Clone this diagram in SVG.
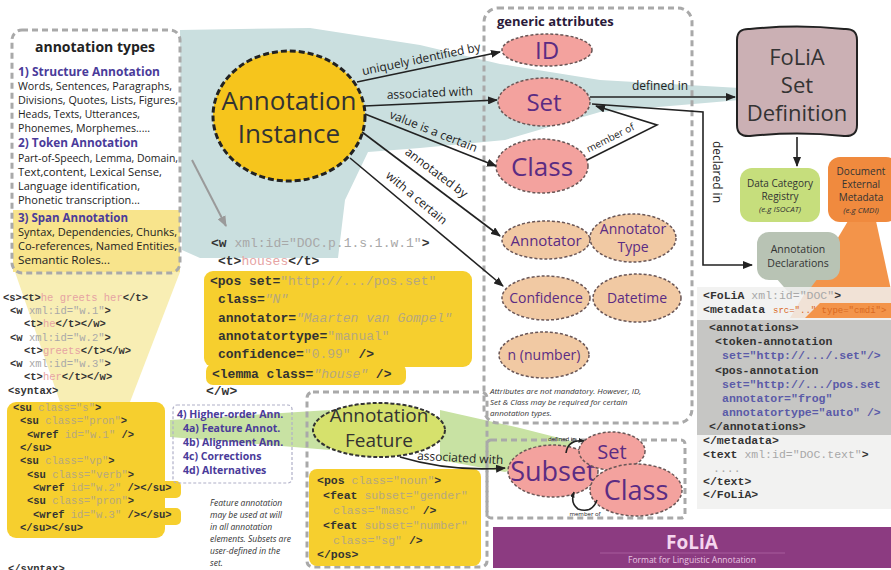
<svg xmlns="http://www.w3.org/2000/svg" width="891" height="570" viewBox="0 0 891 570">
<defs>
<style>
.dash{fill:none;stroke:#a9a9a9;stroke-width:3;stroke-dasharray:6 4}
.pink{fill:#f3a29e;stroke:#6a5656;stroke-width:1.5;stroke-dasharray:3 2}
.tan{fill:#f1c9a3;stroke:#6a5656;stroke-width:1.5;stroke-dasharray:3 2}
.et{font-family:"Open Sans","DejaVu Sans",sans-serif;fill:#5b2c83;text-anchor:middle}
.lbl{font-family:"Open Sans","DejaVu Sans",sans-serif;fill:#222}
.body{font-family:"Open Sans","DejaVu Sans",sans-serif;font-size:10.5px;fill:#222}
.hd{font-family:"Open Sans","DejaVu Sans",sans-serif;font-weight:bold;fill:#4a3b9a}
.mono{font-family:"Liberation Mono","DejaVu Sans Mono",monospace;font-weight:bold;fill:#333}
.g{fill:#a8a8a8;font-weight:normal}
.gy{fill:#b5a77f;font-weight:normal}
.r{fill:#e6a3a3;font-weight:normal}
.pu{fill:#5a5aa8}
.or{fill:#d9691f;font-weight:normal}
.conn{fill:none;stroke:#222;stroke-width:1.6}
.note{font-family:"Open Sans","DejaVu Sans",sans-serif;font-style:italic;fill:#333}
.dk{font-family:"Open Sans","DejaVu Sans",sans-serif;fill:#333;text-anchor:middle}
</style>
<marker id="ah" viewBox="0 0 10 8" markerWidth="10" markerHeight="8" refX="9" refY="4" orient="auto" markerUnits="userSpaceOnUse"><path d="M0,0 L10,4 L0,8 z" fill="#222"/></marker>
<marker id="ahg" viewBox="0 0 10 8" markerWidth="11" markerHeight="9" refX="9" refY="4" orient="auto" markerUnits="userSpaceOnUse"><path d="M0,0 L10,4 L0,8 z" fill="#9a9a9a"/></marker>
<marker id="ahs" viewBox="0 0 10 8" markerWidth="6" markerHeight="5" refX="9" refY="4" orient="auto" markerUnits="userSpaceOnUse"><path d="M0,0 L10,4 L0,8 z" fill="#222"/></marker>
</defs>
<rect width="891" height="570" fill="#fff"/>

<g id="washes">
<polygon points="180,30 310,28 420,45 500,64 600,80 740,88 740,100 600,112 505,140 420,148 368,152 345,200 338,258 200,258 182,250" fill="#cadfdf"/>
<polygon points="15,272 180,272 130,402 60,402" fill="#f8eeb4"/>
<polygon points="170,420 330,410 330,450 170,437" fill="#c8e2a3"/>
<polygon points="440,410 520,428 575,442 560,452 505,472 440,460" fill="#c8e2a3"/>
</g>

<g id="annotation-types">
<rect x="13" y="210" width="167" height="62" fill="#f8e48c"/>
<rect x="12" y="30" width="168" height="243" rx="10" class="dash"/>
<text x="95" y="52" text-anchor="middle" font-family="'Open Sans','DejaVu Sans',sans-serif" font-size="14" font-weight="bold" fill="#222">annotation types</text>
<text class="hd" style="font-size:11.5px" x="18" y="76" textLength="142" lengthAdjust="spacingAndGlyphs">1) Structure Annotation</text>
<text class="body" x="18" y="90" textLength="154" lengthAdjust="spacingAndGlyphs">Words, Sentences, Paragraphs,</text>
<text class="body" x="18" y="104" textLength="160" lengthAdjust="spacingAndGlyphs">Divisions, Quotes, Lists, Figures,</text>
<text class="body" x="18" y="118" textLength="122" lengthAdjust="spacingAndGlyphs">Heads, Texts, Utterances,</text>
<text class="body" x="18" y="132" textLength="132" lengthAdjust="spacingAndGlyphs">Phonemes, Morphemes.....</text>
<text class="hd" style="font-size:11.5px" x="18" y="147" textLength="120" lengthAdjust="spacingAndGlyphs">2) Token Annotation</text>
<text class="body" x="18" y="162" textLength="160" lengthAdjust="spacingAndGlyphs">Part-of-Speech, Lemma, Domain,</text>
<text class="body" x="18" y="176" textLength="144" lengthAdjust="spacingAndGlyphs">Text,content, Lexical Sense,</text>
<text class="body" x="18" y="190" textLength="122" lengthAdjust="spacingAndGlyphs">Language identification,</text>
<text class="body" x="18" y="204" textLength="122" lengthAdjust="spacingAndGlyphs">Phonetic transcription...</text>
<text class="hd" style="font-size:11.5px" x="18" y="222" textLength="110" lengthAdjust="spacingAndGlyphs">3) Span Annotation</text>
<text class="body" x="18" y="236" textLength="159" lengthAdjust="spacingAndGlyphs">Syntax, Dependencies,  Chunks,</text>
<text class="body" x="18" y="250" textLength="159" lengthAdjust="spacingAndGlyphs">Co-references, Named Entities,</text>
<text class="body" x="18" y="264" textLength="92" lengthAdjust="spacingAndGlyphs">Semantic Roles...</text>
</g>

<g id="sentence-xml" class="mono" font-size="10.5">
<rect x="7" y="402" width="158" height="136" rx="9" fill="#f6cf2e" stroke="none"/>
<rect x="145" y="481" width="36" height="17" rx="5" fill="#f6cf2e" stroke="none"/>
<rect x="145" y="508" width="36" height="17" rx="5" fill="#f6cf2e" stroke="none"/>
<text x="3" y="301">&lt;s&gt;&lt;t&gt;<tspan class="r">he greets her</tspan>&lt;/t&gt;</text>
<text x="10" y="314">&lt;w <tspan class="g">xml:id="w.1"</tspan>&gt;</text>
<text x="24" y="327">&lt;t&gt;<tspan class="r">he</tspan>&lt;/t&gt;&lt;/w&gt;</text>
<text x="10" y="341">&lt;w <tspan class="g">xml:id="w.2"</tspan>&gt;</text>
<text x="24" y="354">&lt;t&gt;<tspan class="r">greets</tspan>&lt;/t&gt;&lt;/w&gt;</text>
<text x="10" y="367">&lt;w <tspan class="g">xml:id="w.3"</tspan>&gt;</text>
<text x="24" y="380">&lt;t&gt;<tspan class="r">her</tspan>&lt;/t&gt;&lt;/w&gt;</text>
<text x="8" y="394">&lt;syntax&gt;</text>
<text x="13" y="411">&lt;su <tspan class="gy">class="s"</tspan>&gt;</text>
<text x="20" y="424">&lt;su <tspan class="gy">class="pron"</tspan>&gt;</text>
<text x="27" y="438">&lt;wref <tspan class="gy">id="w.1"</tspan> /&gt;</text>
<text x="20" y="451">&lt;/su&gt;</text>
<text x="20" y="464">&lt;su <tspan class="gy">class="vp"</tspan>&gt;</text>
<text x="27" y="478">&lt;su <tspan class="gy">class="verb"</tspan>&gt;</text>
<text x="33" y="491">&lt;wref <tspan class="gy">id="w.2"</tspan> /&gt;&lt;/su&gt;</text>
<text x="27" y="504">&lt;su <tspan class="gy">class="pron"</tspan>&gt;</text>
<text x="33" y="518">&lt;wref <tspan class="gy">id="w.3"</tspan> /&gt;&lt;/su&gt;</text>
<text x="20" y="531">&lt;/su&gt;&lt;/su&gt;</text>
<text x="8" y="572">&lt;/syntax&gt;</text>
</g>

<g id="word-xml" class="mono" font-size="13">
<rect x="204" y="271" width="268" height="96" rx="9" fill="#f6cf2e"/>
<rect x="206" y="364" width="200" height="21" rx="7" fill="#f6cf2e"/>
<text x="211" y="247">&lt;w<tspan class="g"> xml:id="DOC.p.1.s.1.w.1"</tspan>&gt;</text>
<text x="218" y="265">&lt;t&gt;<tspan class="r">houses</tspan>&lt;/t&gt;</text>
<text x="210" y="285">&lt;pos set=<tspan class="gy">"http://.../pos.set"</tspan></text>
<text x="218" y="303">class=<tspan class="gy" font-style="italic">"N"</tspan></text>
<text x="218" y="322">annotator=<tspan class="gy" font-style="italic">"Maarten van Gompel"</tspan></text>
<text x="218" y="340">annotatortype=<tspan class="gy">"manual"</tspan></text>
<text x="218" y="358">confidence=<tspan class="gy">"0.99"</tspan> /&gt;</text>
<text x="212" y="378">&lt;lemma class=<tspan class="gy" font-style="italic">"house"</tspan> /&gt;</text>
<text x="206" y="395">&lt;/w&gt;</text>
</g>

<g id="higher-order">
<rect x="173" y="405" width="119" height="78" rx="4" fill="none" stroke="#b0b0c8" stroke-width="1.2" stroke-dasharray="3 2"/>
<text class="hd" style="font-size:10.5px" x="177" y="418">4) Higher-order Ann.</text>
<text class="hd" style="font-size:10.5px" x="183" y="432">4a) Feature Annot.</text>
<text class="hd" style="font-size:10.5px" x="183" y="446">4b) Alignment Ann.</text>
<text class="hd" style="font-size:10.5px" x="183" y="460">4c) Corrections</text>
<text class="hd" style="font-size:10.5px" x="183" y="474">4d) Alternatives</text>
<text class="note" style="font-size:8.5px" x="210" y="506">Feature annotation</text>
<text class="note" style="font-size:8.5px" x="210" y="518">may be used at will</text>
<text class="note" style="font-size:8.5px" x="210" y="530">in all annotation</text>
<text class="note" style="font-size:8.5px" x="210" y="542">elements. Subsets are</text>
<text class="note" style="font-size:8.5px" x="210" y="554">user-defined in the</text>
<text class="note" style="font-size:8.5px" x="210" y="566">set.</text>
</g>

<g id="annotation-instance">
<ellipse cx="289" cy="116" rx="76" ry="65" fill="#f6c51c" stroke="#222" stroke-width="3" stroke-dasharray="6 3"/>
<text class="dk" x="289" y="110" font-size="26">Annotation</text>
<text class="dk" x="289" y="143" font-size="26">Instance</text>
</g>

<g id="generic-attributes">
<rect x="484" y="8" width="208" height="415" rx="14" class="dash"/>
<text x="497" y="26" font-family="'Open Sans','DejaVu Sans',sans-serif" font-size="13" font-weight="bold" fill="#2a1a3a">generic attributes</text>
<text class="note" style="font-size:8px" x="490" y="394">Attributes are not mandatory. However, ID,</text>
<text class="note" style="font-size:8px" x="490" y="405">Set &amp; Class may be required for certain</text>
<text class="note" style="font-size:8px" x="490" y="416">annotation types.</text>
</g>
<g id="id"><ellipse cx="547" cy="50" rx="45" ry="16" class="pink"/><text class="et" x="547" y="59" font-size="24">ID</text></g>
<g id="set"><ellipse cx="544" cy="102" rx="46" ry="24" class="pink"/><text class="et" x="544" y="111" font-size="24">Set</text></g>
<g id="class"><ellipse cx="542" cy="166" rx="46" ry="27" class="pink"/><text class="et" x="542" y="176" font-size="26">Class</text></g>
<g id="annotator"><ellipse cx="546" cy="240" rx="44" ry="19" class="tan"/><text class="et" x="546" y="246" font-size="15">Annotator</text></g>
<g id="annotator-type"><ellipse cx="633" cy="238" rx="43" ry="24" class="tan"/><text class="et" x="633" y="234" font-size="14">Annotator</text><text class="et" x="633" y="252" font-size="14">Type</text></g>
<g id="confidence"><ellipse cx="546" cy="298" rx="44" ry="22" class="tan"/><text class="et" x="546" y="303" font-size="14">Confidence</text></g>
<g id="datetime"><ellipse cx="637" cy="298" rx="44" ry="24" class="tan"/><text class="et" x="637" y="303" font-size="14">Datetime</text></g>
<g id="n-number"><ellipse cx="544" cy="355" rx="45" ry="23" class="tan"/><text class="et" x="544" y="360" font-size="14">n (number)</text></g>

<g id="folia-set-definition">
<path d="M737,40 Q737,28 750,29 Q797,24 844,29 Q857,28 857,40 L857,125 Q857,137 844,136 Q797,131 750,136 Q737,137 737,125 Z" fill="#cbb0b4" stroke="#222" stroke-width="2"/>
<text class="dk" x="797" y="65" font-size="22">FoLiA</text>
<text class="dk" x="797" y="93" font-size="22">Set</text>
<text class="dk" x="797" y="121" font-size="22">Definition</text>
</g>
<g id="data-category-registry">
<rect x="740" y="168" width="80" height="54" rx="12" fill="#c6de7c"/>
<text class="dk" x="780" y="187" font-size="10">Data Category</text>
<text class="dk" x="780" y="200" font-size="10">Registry</text>
<text class="dk" x="780" y="212" font-size="8" font-style="italic">(e.g ISOCAT)</text>
</g>
<g id="document-external-metadata">
<polygon points="848,221 876,221 891,290 891,318 790,318" fill="#f3944a"/>
<rect x="828" y="157" width="70" height="65" rx="12" fill="#f08a3e"/>
<text class="dk" x="861" y="175" font-size="10" fill="#3a2410">Document</text>
<text class="dk" x="861" y="188" font-size="10" fill="#3a2410">External</text>
<text class="dk" x="861" y="201" font-size="10" fill="#3a2410">Metadata</text>
<text class="dk" x="861" y="213" font-size="8" font-style="italic" fill="#3a2410">(e.g CMDI)</text>
</g>
<g id="annotation-declarations">
<polygon points="776,278 818,278 806,294 790,294" fill="#b8c3b4"/>
<rect x="757" y="232" width="83" height="48" rx="12" fill="#b8c3b4"/>
<text class="dk" x="798" y="253" font-size="10.5">Annotation</text>
<text class="dk" x="798" y="267" font-size="10.5">Declarations</text>
</g>

<g id="document-xml" class="mono" font-size="11.5">
<rect x="697" y="287" width="194" height="222" fill="#f0f0ee" opacity="0.85"/>
<polygon points="820,303 891,303 891,318 805,318" fill="#f3944a"/>
<rect x="697" y="320" width="194" height="115" fill="#c6c6c4"/>
<text x="703" y="299">&lt;FoLiA<tspan class="g"> xml:id="DOC"</tspan>&gt;</text>
<text x="703" y="313">&lt;metadata</text>
<text x="773" y="313" class="or" style="font-size:9px">src=".." type="cmdi"&gt;</text>
<text x="709" y="331">&lt;annotations&gt;</text>
<text x="715" y="345">&lt;token-annotation</text>
<text x="722" y="359" class="pu">set="http://.../.set"/&gt;</text>
<text x="715" y="374">&lt;pos-annotation</text>
<text x="722" y="388" class="pu">set="http://.../pos.set</text>
<text x="722" y="402" class="pu">annotator="frog"</text>
<text x="722" y="416" class="pu">annotatortype="auto" /&gt;</text>
<text x="709" y="430">&lt;/annotations&gt;</text>
<text x="703" y="444">&lt;/metadata&gt;</text>
<text x="703" y="458">&lt;text<tspan class="g"> xml:id="DOC.text"</tspan>&gt;</text>
<text x="713" y="472" class="g">....</text>
<text x="703" y="485">&lt;/text&gt;</text>
<text x="703" y="498">&lt;/FoLiA&gt;</text>
</g>

<g id="annotation-feature">
<rect x="307" y="392" width="180" height="175" rx="6" class="dash" stroke-width="2"/>
<ellipse cx="379" cy="430" rx="66" ry="27" fill="#d6e16c" stroke="#333" stroke-width="2" stroke-dasharray="4 2"/>
<text class="dk" x="379" y="422" font-size="19">Annotation</text>
<text class="dk" x="379" y="447" font-size="19">Feature</text>
</g>
<g id="feature-xml" class="mono" font-size="11.5">
<rect x="309" y="469" width="172" height="97" rx="8" fill="#f6cf2e"/>
<text x="317" y="484">&lt;pos <tspan class="gy">class="noun"</tspan>&gt;</text>
<text x="323" y="499">&lt;feat <tspan class="gy">subset="gender"</tspan></text>
<text x="333" y="514" class="gy">class="masc" <tspan fill="#333" font-weight="bold">/&gt;</tspan></text>
<text x="323" y="529">&lt;feat <tspan class="gy">subset="number"</tspan></text>
<text x="333" y="544" class="gy">class="sg" <tspan fill="#333" font-weight="bold">/&gt;</tspan></text>
<text x="317" y="558">&lt;/pos&gt;</text>
</g>

<g id="subset-group">
<rect x="487" y="440" width="198" height="78" rx="4" class="dash" stroke-width="1.5" stroke-dasharray="3 2"/>
<ellipse cx="553" cy="471" rx="45" ry="26" class="pink"/>
<text class="et" x="553" y="481" font-size="27">Subset</text>
</g>
<g id="subset-set"><ellipse cx="612" cy="451" rx="33" ry="19" class="pink"/><text class="et" x="612" y="459" font-size="20">Set</text></g>
<g id="subset-class"><ellipse cx="636" cy="490" rx="46" ry="26" class="pink"/><text class="et" x="636" y="500" font-size="27">Class</text></g>

<g id="folia-banner">
<rect x="493" y="527" width="398" height="41" fill="#8c3b81"/>
<text x="692" y="549" text-anchor="middle" font-family="'Open Sans','DejaVu Sans',sans-serif" font-size="19" font-weight="bold" fill="#f5d5ee">FoLiA</text>
<line x1="600" y1="553" x2="785" y2="553" stroke="#a75c9c" stroke-width="1"/>
<text x="692" y="563" text-anchor="middle" font-family="'Open Sans','DejaVu Sans',sans-serif" font-size="8.5" fill="#e8c6e1">Format for Linguistic Annotation</text>
</g>

<g id="connectors">
<path class="conn" d="M357,82 L500,52" marker-end="url(#ah)"/>
<path class="conn" d="M364,106 L497,100" marker-end="url(#ah)"/>
<path class="conn" d="M365,114 L496,166" marker-end="url(#ah)"/>
<path class="conn" d="M362,132 L500,236" marker-end="url(#ah)"/>
<path class="conn" d="M350,158 L503,286" marker-end="url(#ah)"/>
<path class="conn" d="M590,97 L735,97" marker-end="url(#ah)"/>
<path class="conn" d="M592,104 L703,112 L703,265 L752,265" marker-end="url(#ah)"/>
<path class="conn" d="M587,160 L657,125 L596,106" marker-end="url(#ah)"/>
<path class="conn" d="M797,137 L797,166" marker-end="url(#ah)"/>
<path class="conn" d="M400,457 Q450,472 505,468" marker-end="url(#ah)"/>
<path d="M192,160 L226,226" stroke="#9a9a9a" stroke-width="2" fill="none" marker-end="url(#ahg)"/>
<path class="conn" stroke-width="1" d="M566,453 Q568,439 584,441" marker-end="url(#ahs)"/>
<path class="conn" stroke-width="1.2" d="M597,500 Q592,514 578,509 Q570,503 574,492" marker-end="url(#ahs)"/>
<text class="lbl" style="font-size:12px" x="422" y="63" text-anchor="middle" transform="rotate(-11.8 422 63)">uniquely identified by</text>
<text class="lbl" style="font-size:12px" x="430" y="97" text-anchor="middle" transform="rotate(-2.6 430 97)">associated with</text>
<text class="lbl" style="font-size:12px" x="432" y="135" text-anchor="middle" transform="rotate(21.6 432 135)">value is a certain</text>
<text class="lbl" style="font-size:12px" x="434" y="176" text-anchor="middle" transform="rotate(37 434 176)">annotated by</text>
<text class="lbl" style="font-size:12px" x="414" y="201" text-anchor="middle" transform="rotate(40 414 201)">with a certain</text>
<text class="lbl" style="font-size:12px" x="660" y="90" text-anchor="middle">defined in</text>
<text class="lbl" style="font-size:12px" x="713" y="172" text-anchor="middle" transform="rotate(90 713 172)">declared in</text>
<text class="lbl" style="font-size:10px" x="612" y="141" text-anchor="middle" transform="rotate(-27 612 141)">member of</text>
<text class="lbl" style="font-size:12px" x="460" y="462" text-anchor="middle" transform="rotate(3 460 462)">associated with</text>
<text class="lbl" style="font-size:6px" x="562" y="441" text-anchor="middle">defined in</text>
<text class="lbl" style="font-size:6px" x="585" y="516" text-anchor="middle">member of</text>
</g>
</svg>
